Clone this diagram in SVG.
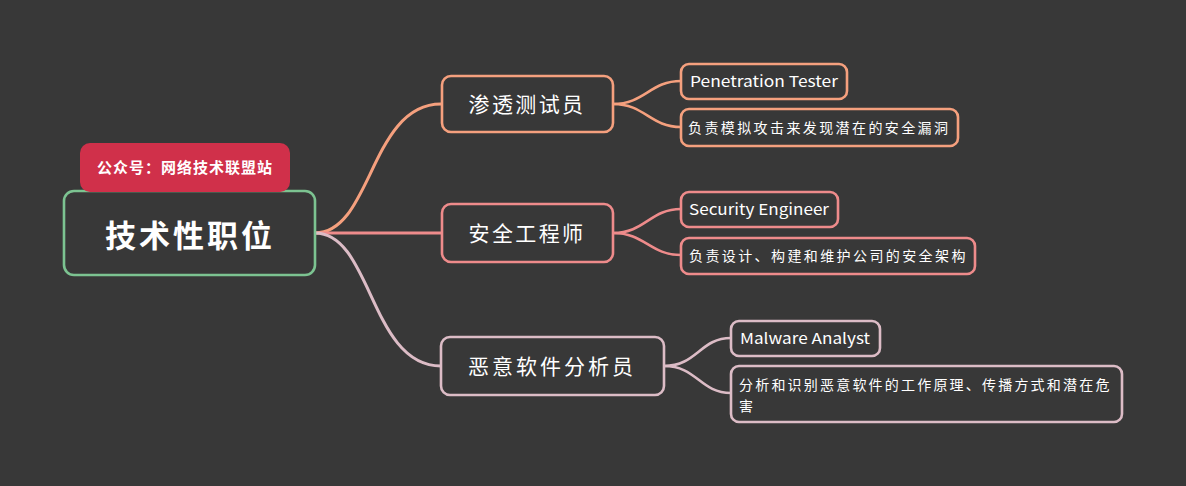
<svg xmlns="http://www.w3.org/2000/svg" width="1186" height="486" viewBox="0 0 1186 486">
<style>
.t{font-family:"Noto Sans CJK SC","Noto Sans",sans-serif;fill:#ffffff;}
.box{fill:#383838;stroke-width:2.6;stroke-linejoin:round;}
.c{fill:none;stroke-linecap:round;}
.o{stroke:#f5a07e;}
.p{stroke:#ee8b8b;}
.q{stroke:#dcbcc6;}
</style>
<rect x="0" y="0" width="1186" height="486" fill="#383838"/>
<g id="connectors">
<path class="c o" stroke-width="3" d="M315,233 C372,233 370,104 441,104"/>
<path class="c p" stroke-width="3" d="M315,233 C372,233 370,233 441,233"/>
<path class="c q" stroke-width="3" d="M315,233 C372,233 370,366 441,366"/>
<path class="c o" stroke-width="2.6" d="M613,104 C645,104 650,81 681,81"/>
<path class="c o" stroke-width="2.6" d="M613,104 C645,104 650,127 681,127"/>
<path class="c p" stroke-width="2.6" d="M613,233 C645,233 650,209 681,209"/>
<path class="c p" stroke-width="2.6" d="M613,233 C645,233 650,255 681,255"/>
<path class="c q" stroke-width="2.6" d="M664,366 C697,366 700,338 731,338"/>
<path class="c q" stroke-width="2.6" d="M664,366 C697,366 700,393 731,393"/>
</g>
<g id="root">
<rect class="box" x="64" y="191" width="251" height="84" rx="10" stroke="#7cc391" stroke-width="3"/>
<text class="t" x="190" y="247" font-size="31" font-weight="bold" text-anchor="middle" letter-spacing="3">技术性职位</text>
</g>
<g id="label">
<rect x="80" y="143" width="210" height="49" rx="10" fill="#d0304a"/>
<text class="t" x="185" y="173" font-size="15" font-weight="bold" text-anchor="middle" letter-spacing="1">公众号：网络技术联盟站</text>
</g>
<g id="b1">
<rect class="box o" x="442" y="76" width="171" height="56" rx="9"/>
<text class="t" x="527" y="112" font-size="21" text-anchor="middle" letter-spacing="2.4">渗透测试员</text>
</g>
<g id="b1c1">
<rect class="box o" x="681" y="64" width="166" height="35" rx="8"/>
<text class="t" x="690" y="87" font-size="15" textLength="148" lengthAdjust="spacingAndGlyphs">Penetration Tester</text>
</g>
<g id="b1c2">
<rect class="box o" x="681" y="109" width="277" height="37" rx="8"/>
<text class="t" x="688" y="133" font-size="14" letter-spacing="2.4">负责模拟攻击来发现潜在的安全漏洞</text>
</g>
<g id="b2">
<rect class="box p" x="442" y="204" width="171" height="58" rx="9"/>
<text class="t" x="527" y="241" font-size="21" text-anchor="middle" letter-spacing="2.4">安全工程师</text>
</g>
<g id="b2c1">
<rect class="box p" x="681" y="192" width="157" height="35" rx="8"/>
<text class="t" x="689" y="215" font-size="15" textLength="140" lengthAdjust="spacingAndGlyphs">Security Engineer</text>
</g>
<g id="b2c2">
<rect class="box p" x="681" y="238" width="294" height="36" rx="8"/>
<text class="t" x="689" y="261" font-size="14" letter-spacing="2.4">负责设计、构建和维护公司的安全架构</text>
</g>
<g id="b3">
<rect class="box q" x="441" y="337" width="223" height="58" rx="9"/>
<text class="t" x="552" y="374" font-size="21" text-anchor="middle" letter-spacing="3">恶意软件分析员</text>
</g>
<g id="b3c1">
<rect class="box q" x="731" y="321" width="149" height="35" rx="8"/>
<text class="t" x="740" y="344" font-size="15" textLength="130" lengthAdjust="spacingAndGlyphs">Malware Analyst</text>
</g>
<g id="b3c2">
<rect class="box q" x="731" y="366" width="391" height="56" rx="8"/>
<text class="t" x="739" y="390" font-size="14" letter-spacing="2.2">分析和识别恶意软件的工作原理、传播方式和潜在危</text>
<text class="t" x="739" y="411" font-size="14">害</text>
</g>
</svg>
